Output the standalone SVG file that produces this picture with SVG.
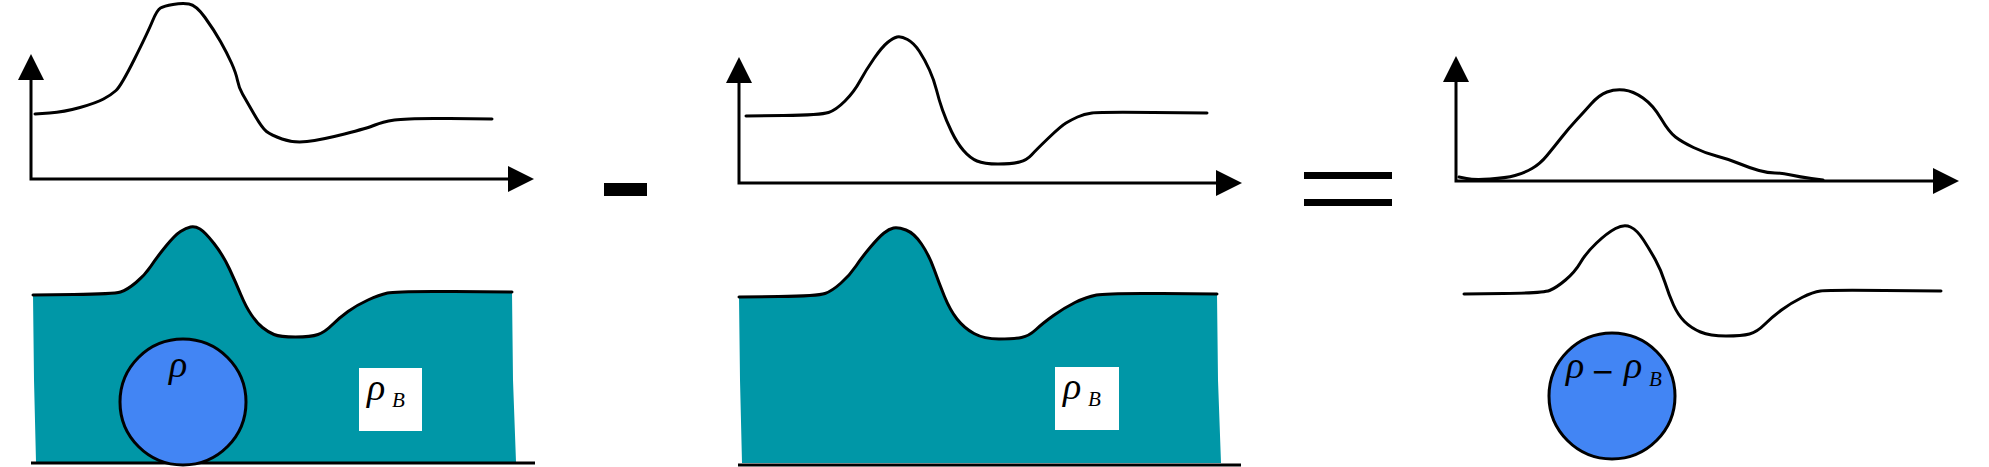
<svg xmlns="http://www.w3.org/2000/svg" width="1989" height="467" viewBox="0 0 1989 467">
<defs>
<marker id="ah" viewBox="0 0 26 26" refX="0" refY="13" markerWidth="26" markerHeight="26" orient="auto-start-reverse" markerUnits="userSpaceOnUse">
<path d="M0,0 L26,13 L0,26 z" fill="#000"/>
</marker>
<style>
.ax{fill:none;stroke:#000;stroke-width:3;marker-start:url(#ah);marker-end:url(#ah)}
.cv{fill:none;stroke:#000;stroke-width:3;stroke-linejoin:round;stroke-linecap:round}
.water{fill:#0097A7;stroke:none}
.ball{fill:#4285F4;stroke:#000;stroke-width:3}
.gnd{stroke:#000;stroke-width:3}
.box{fill:#fff}
.rho{font-family:"Liberation Serif","DejaVu Serif",serif;font-style:italic;font-size:38px;fill:#000}
.sub{font-family:"Liberation Serif","DejaVu Serif",serif;font-style:italic;font-size:21px;fill:#000}
.mn{font-family:"DejaVu Sans",sans-serif;font-style:normal;font-size:28px}
.op{fill:#000}
</style>
</defs>
<rect width="1989" height="467" fill="#fff"/>

<g id="connectors">
<path class="ax" d="M31,80 L31,179 L508,179"/>
<path class="ax" d="M739,83 L739,183 L1216,183"/>
<path class="ax" d="M1456,82 L1456,181 L1933,181"/>
</g>

<g id="graph1">
<path class="cv" d="M35,114 L49.5,113 Q64,112 80,107.5 Q96,103 103.5,99 Q111,95 116,90.5 Q121,86 134.5,59 Q148,32 152.5,21 Q157,10 160.5,8 Q164,6 173,4.5 Q182,3 189,4 Q196,5 205,17.5 Q214,30 220.5,41.5 Q227,53 231.5,63 Q236,73 237.5,80.5 Q239,88 242.5,94 Q246,100 254,114 Q262,128 266.5,131.5 Q271,135 282,139 Q293,143 307,141.5 Q321,140 344.5,134 Q368,128 375,125 Q382,122 394.5,120 Q407,118 449.5,118.5 L492,119"/>
</g>

<g id="minus"><rect class="op" x="604" y="183" width="43" height="13"/></g>

<g id="graph2">
<path class="cv" d="M746,116 L783.5,115.5 Q821,115 828.5,112.5 Q836,110 845,101 Q854,92 860,81 Q866,70 874,58.5 Q882,47 887.5,42.5 Q893,38 897,37 Q901,36 907.5,39.5 Q914,43 919.5,51.5 Q925,60 929.5,70 Q934,80 936.5,90 Q939,100 942.5,110 Q946,120 951.5,131.5 Q957,143 963.5,150.5 Q970,158 977,161 Q984,164 998,164 Q1012,164 1019.5,162 Q1027,160 1031.5,155 Q1036,150 1048.5,138 Q1061,126 1066,123 Q1071,120 1077.5,117 Q1084,114 1092,113 Q1100,112 1153.5,112.5 L1207,113"/>
</g>

<g id="equals">
<rect class="op" x="1304" y="172" width="88" height="7"/>
<rect class="op" x="1304" y="199" width="88" height="7"/>
</g>

<g id="graph3">
<path class="cv" d="M1459,177 L1466.5,178.5 Q1474,180 1490,179 Q1506,178 1515,175.5 Q1524,173 1532,168.5 Q1540,164 1547,155.5 Q1554,147 1561.5,137.5 Q1569,128 1576,120.5 Q1583,113 1591,104 Q1599,95 1607,92 Q1615,89 1624,90 Q1633,91 1643,98 Q1653,105 1661,118.5 Q1669,132 1675.5,137 Q1682,142 1693.5,147.5 Q1705,153 1716.5,156 Q1728,159 1739,163.5 Q1750,168 1759,170.5 Q1768,173 1775,173 Q1782,173 1791,175 Q1800,177 1811.5,178.5 L1823,180"/>
</g>

<g id="scene1">
<path class="water" d="M33,295 L73.5,294.5 Q114,294 120.5,292 Q127,290 136,282.5 Q145,275 151,266 Q157,257 166,246 Q175,235 180.5,231.5 Q186,228 190.5,227 Q195,226 200,229 Q205,232 214,243.5 Q223,255 229.5,269 Q236,283 241,295 Q246,307 251.5,315 Q257,323 262.5,327.5 Q268,332 274,334.5 Q280,337 295.5,337 Q311,337 318,334.5 Q325,332 332,325 Q339,318 348,311.5 Q357,305 368,300 Q379,295 387.5,293 Q396,291 454,291.5 L512,292 L513,380 516,462 L36,462 L34,380 Z"/>
<path class="cv" d="M33,295 L73.5,294.5 Q114,294 120.5,292 Q127,290 136,282.5 Q145,275 151,266 Q157,257 166,246 Q175,235 180.5,231.5 Q186,228 190.5,227 Q195,226 200,229 Q205,232 214,243.5 Q223,255 229.5,269 Q236,283 241,295 Q246,307 251.5,315 Q257,323 262.5,327.5 Q268,332 274,334.5 Q280,337 295.5,337 Q311,337 318,334.5 Q325,332 332,325 Q339,318 348,311.5 Q357,305 368,300 Q379,295 387.5,293 Q396,291 454,291.5 L512,292"/>
<line class="gnd" x1="31" y1="463" x2="535" y2="463"/>
<circle class="ball" cx="183" cy="402" r="63"/>
<text class="rho" x="169" y="377">ρ</text>
<rect class="box" x="359" y="368" width="63" height="63"/>
<text class="rho" x="367" y="400">ρ<tspan class="sub" x="392" y="407">B</tspan></text>
</g>

<g id="scene2">
<path class="water" d="M739,297 L778.5,296.5 Q818,296 825,293.5 Q832,291 841,283 Q850,275 856,266 Q862,257 870.5,247 Q879,237 884,233 Q889,229 893.5,228 Q898,227 906,230 Q914,233 921.5,244 Q929,255 934,269 Q939,283 944.5,296.5 Q950,310 957,319 Q964,328 974,333.5 Q984,339 999,339 Q1014,339 1021.5,337.5 Q1029,336 1036,329.5 Q1043,323 1053.5,315.5 Q1064,308 1075,302.5 Q1086,297 1096.5,295 Q1107,293 1162,293.5 L1217,294 L1218,380 1221,463 L742,463 L740,380 Z"/>
<path class="cv" d="M739,297 L778.5,296.5 Q818,296 825,293.5 Q832,291 841,283 Q850,275 856,266 Q862,257 870.5,247 Q879,237 884,233 Q889,229 893.5,228 Q898,227 906,230 Q914,233 921.5,244 Q929,255 934,269 Q939,283 944.5,296.5 Q950,310 957,319 Q964,328 974,333.5 Q984,339 999,339 Q1014,339 1021.5,337.5 Q1029,336 1036,329.5 Q1043,323 1053.5,315.5 Q1064,308 1075,302.5 Q1086,297 1096.5,295 Q1107,293 1162,293.5 L1217,294"/>
<line class="gnd" x1="738" y1="465" x2="1241" y2="465"/>
<rect class="box" x="1055" y="367" width="64" height="63"/>
<text class="rho" x="1063" y="399">ρ<tspan class="sub" x="1088" y="406">B</tspan></text>
</g>

<g id="scene3">
<path class="cv" d="M1464,294 L1503.5,293.5 Q1543,293 1549.5,290.5 Q1556,288 1565.5,280 Q1575,272 1580.5,262.5 Q1586,253 1596.5,243 Q1607,233 1615.5,228.5 Q1624,224 1630.5,227 Q1637,230 1643.5,240 Q1650,250 1655.5,260 Q1661,270 1665,282.5 Q1669,295 1673.5,305 Q1678,315 1684.5,321.5 Q1691,328 1700.5,332 Q1710,336 1726,336 Q1742,336 1749.5,334 Q1757,332 1764.5,324.5 Q1772,317 1781.5,310 Q1791,303 1802,297.5 Q1813,292 1820.5,291 Q1828,290 1884.5,290.5 L1941,291"/>
<circle class="ball" cx="1612" cy="396" r="63"/>
<text class="rho" x="1566" y="378">ρ<tspan class="mn" x="1591" y="381">−</tspan><tspan x="1624" y="378">ρ</tspan><tspan class="sub" x="1649" y="386">B</tspan></text>
</g>
</svg>
